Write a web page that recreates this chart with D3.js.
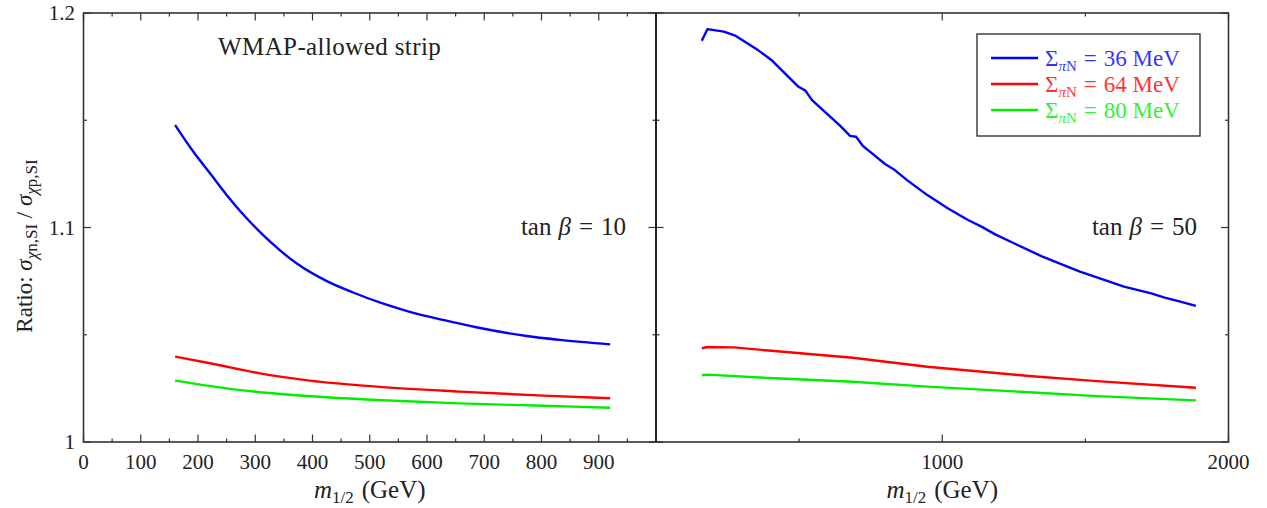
<!DOCTYPE html>
<html>
<head>
<meta charset="utf-8">
<script src="https://cdn.jsdelivr.net/npm/d3@7"></script>
<style>
  body { margin: 0; background: #fff; }
  text { font-family: "Liberation Serif", "DejaVu Serif", serif; fill: #222; }
</style>
</head>
<body>
<svg id="chart" width="1267" height="508"></svg>
<script>
// ---- data ----
// tan beta = 10 panel
const m10Blue = [160, 192, 221, 250, 285, 326, 372, 425, 471, 521, 570, 628, 686, 774, 832, 920];
const r10Blue = [1.1478, 1.1353, 1.1253, 1.1152, 1.1043, 1.0934, 1.0833, 1.0750, 1.0697, 1.0647, 1.0607, 1.0569, 1.0535, 1.0494, 1.0476, 1.0455];
const m10Red = [160, 221, 308, 395, 512, 657, 803, 920];
const r10Red = [1.0398, 1.0367, 1.0320, 1.0286, 1.0258, 1.0235, 1.0216, 1.0204];
const m10Green = [160, 250, 366, 512, 657, 803, 920];
const r10Green = [1.0286, 1.0250, 1.0219, 1.0196, 1.0180, 1.0169, 1.0160];

// tan beta = 50 panel
const m50Blue = [160, 180, 237, 279, 356, 403, 439, 498, 522, 545, 593, 640, 678, 699, 723, 758, 800, 830, 877, 948,
  1019, 1090, 1137, 1185, 1256, 1350, 1481, 1635, 1730, 1777, 1825, 1886];
const r50Blue = [1.1871, 1.1925, 1.1913, 1.1893, 1.1827, 1.1781, 1.1734, 1.1656, 1.1638, 1.1594, 1.1535, 1.1478, 1.1427, 1.1423, 1.1380, 1.1342, 1.1296, 1.1272, 1.1221, 1.1151,
  1.1090, 1.1035, 1.1004, 1.0968, 1.0923, 1.0864, 1.0794, 1.0724, 1.0693, 1.0673, 1.0657, 1.0635];
const m50Red = [160, 180, 272, 414, 687, 948, 1303, 1540, 1886];
const r50Red = [1.0437, 1.0443, 1.0441, 1.0424, 1.0393, 1.0351, 1.0308, 1.0284, 1.0253];
const m50Green = [160, 180, 414, 687, 948, 1303, 1540, 1886];
const r50Green = [1.0311, 1.0314, 1.0297, 1.0281, 1.0258, 1.0232, 1.0214, 1.0194];

const legendLabels = ["36 MeV", "64 MeV", "80 MeV"];
const seriesColors = ["#0000ff", "#ff0000", "#00ee00"];
const leftTicks = [0, 100, 200, 300, 400, 500, 600, 700, 800, 900];
const rightTicks = [1000, 2000];
const yTicks = [1, 1.1, 1.2];

// ---- layout ----
const svg = d3.select("#chart");
const yTop = 13, yBottom = 442;
const x0 = 83.5, xMid = 656, x1 = 1228.5;
const frameColor = "#333";

const y = d3.scaleLinear().domain([1, 1.2]).range([yBottom, yTop]);
const xL = d3.scaleLinear().domain([0, 1000]).range([x0, xMid]);
const xR = d3.scaleLinear().domain([0, 2000]).range([xMid, x1]);

const toPts = (ms, rs) => ms.map((m, i) => [m, rs[i]]);

function drawPanel(x, minorStep, majorTicks, labelTicks, series, curve) {
  const g = svg.append("g");
  const [a, b] = x.domain();

  // x ticks, top and bottom, pointing inward
  const minors = d3.range(a, b + 1, minorStep).filter(v => !majorTicks.includes(v));
  const tickData = majorTicks.map(v => ({ v, len: 7.5 })).concat(minors.map(v => ({ v, len: 3.5 })));
  g.append("g").selectAll("line").data(tickData).join("line")
    .attr("x1", d => x(d.v)).attr("x2", d => x(d.v))
    .attr("y1", yBottom).attr("y2", d => yBottom - d.len)
    .attr("stroke", frameColor).attr("stroke-width", 1.2);
  g.append("g").selectAll("line").data(tickData).join("line")
    .attr("x1", d => x(d.v)).attr("x2", d => x(d.v))
    .attr("y1", yTop).attr("y2", d => yTop + d.len)
    .attr("stroke", frameColor).attr("stroke-width", 1.2);

  g.append("g").selectAll("text").data(labelTicks).join("text")
    .attr("x", d => x(d)).attr("y", 468.5)
    .attr("text-anchor", "middle")
    .attr("font-size", 21)
    .text(d => d);

  const line = d3.line()
    .x(d => x(d[0]))
    .y(d => y(d[1]))
    .curve(curve);

  series.forEach((s, i) => {
    g.append("path")
      .attr("d", line(s))
      .attr("fill", "none")
      .attr("stroke", seriesColors[i])
      .attr("stroke-width", 2.4)
      .attr("stroke-linejoin", "round");
  });
  return g;
}

drawPanel(xL, 50, leftTicks, leftTicks, [
  toPts(m10Blue, r10Blue), toPts(m10Red, r10Red), toPts(m10Green, r10Green)
], d3.curveMonotoneX);
drawPanel(xR, 500, [1000, 2000], rightTicks, [
  toPts(m50Blue, r50Blue), toPts(m50Red, r50Red), toPts(m50Green, r50Green)
], d3.curveLinear);

// y ticks: left edge, divider (both sides), right edge
const yTickData = [1, 1.05, 1.1, 1.15, 1.2].map(v => ({ v, len: yTicks.includes(v) ? 7.5 : 3.5 }));
[[x0, 1], [xMid, 1], [xMid, -1], [x1, -1]].forEach(([xp, dir]) => {
  svg.append("g").selectAll("line").data(yTickData).join("line")
    .attr("x1", xp).attr("x2", d => xp + dir * d.len)
    .attr("y1", d => y(d.v)).attr("y2", d => y(d.v))
    .attr("stroke", frameColor).attr("stroke-width", 1.2);
});
svg.append("g").selectAll("text").data(yTicks).join("text")
  .attr("x", 75).attr("y", d => y(d) + 7)
  .attr("text-anchor", "end")
  .attr("font-size", 21)
  .text(d => d === 1 ? "1" : d.toFixed(1));

// frames
svg.append("rect")
  .attr("x", x0).attr("y", yTop).attr("width", x1 - x0).attr("height", yBottom - yTop)
  .attr("fill", "none").attr("stroke", frameColor).attr("stroke-width", 1.6);
svg.append("line")
  .attr("x1", xMid).attr("x2", xMid).attr("y1", yTop).attr("y2", yBottom)
  .attr("stroke", "#222").attr("stroke-width", 2);

// panel annotations
svg.append("text").attr("x", 218).attr("y", 55).attr("font-size", 25)
  .attr("letter-spacing", 0.4).text("WMAP-allowed strip");

function tanBeta(xRight, val) {
  const t = svg.append("text").attr("x", xRight).attr("y", 235)
    .attr("text-anchor", "end").attr("font-size", 25);
  t.append("tspan").text("tan");
  t.append("tspan").attr("dx", 7).attr("font-style", "italic").text("β");
  t.append("tspan").attr("dx", 8).text("=");
  t.append("tspan").attr("dx", 8).text(val);
}
tanBeta(626, 10);
tanBeta(1197, 50);

// axis titles
function mHalf(xc) {
  const t = svg.append("text").attr("x", xc).attr("y", 498)
    .attr("text-anchor", "middle").attr("font-size", 25);
  t.append("tspan").attr("font-style", "italic").text("m");
  t.append("tspan").attr("font-size", 17).attr("dy", 5).text("1/2");
  t.append("tspan").attr("dy", -5).attr("dx", 8).text("(GeV)");
}
mHalf((x0 + xMid) / 2);
mHalf((xMid + x1) / 2);

const yl = svg.append("text")
  .attr("transform", "translate(32,246) rotate(-90)")
  .attr("text-anchor", "middle").attr("font-size", 23);
yl.append("tspan").text("Ratio: ");
yl.append("tspan").attr("font-style", "italic").text("σ");
yl.append("tspan").attr("font-size", 17).attr("dy", 5).attr("font-style", "italic").text("χ");
yl.append("tspan").attr("font-size", 17).text("n,SI");
yl.append("tspan").attr("dy", -5).text(" / ");
yl.append("tspan").attr("font-style", "italic").text("σ");
yl.append("tspan").attr("font-size", 17).attr("dy", 5).attr("font-style", "italic").text("χ");
yl.append("tspan").attr("font-size", 17).text("p,SI");

// legend
const lg = svg.append("g");
lg.append("rect").attr("x", 977).attr("y", 34).attr("width", 223).attr("height", 102)
  .attr("fill", "#fff").attr("stroke", "#333").attr("stroke-width", 1.4);
legendLabels.forEach((lab, i) => {
  const yy = 58 + i * 26;
  lg.append("line").attr("x1", 991).attr("x2", 1038).attr("y1", yy).attr("y2", yy)
    .attr("stroke", seriesColors[i]).attr("stroke-width", 2.4);
  const t = lg.append("text").attr("x", 1045).attr("y", yy + 8).attr("font-size", 23)
    .style("fill", seriesColors[i]).attr("opacity", 0.8);
  t.append("tspan").text("Σ");
  t.append("tspan").attr("font-size", 15).attr("dy", 5).attr("font-style", "italic").text("π");
  t.append("tspan").attr("font-size", 15).text("N");
  t.append("tspan").attr("dy", -5).attr("dx", 7).text("=");
  t.append("tspan").attr("dx", 7).text(lab);
});
</script>
</body>
</html>
